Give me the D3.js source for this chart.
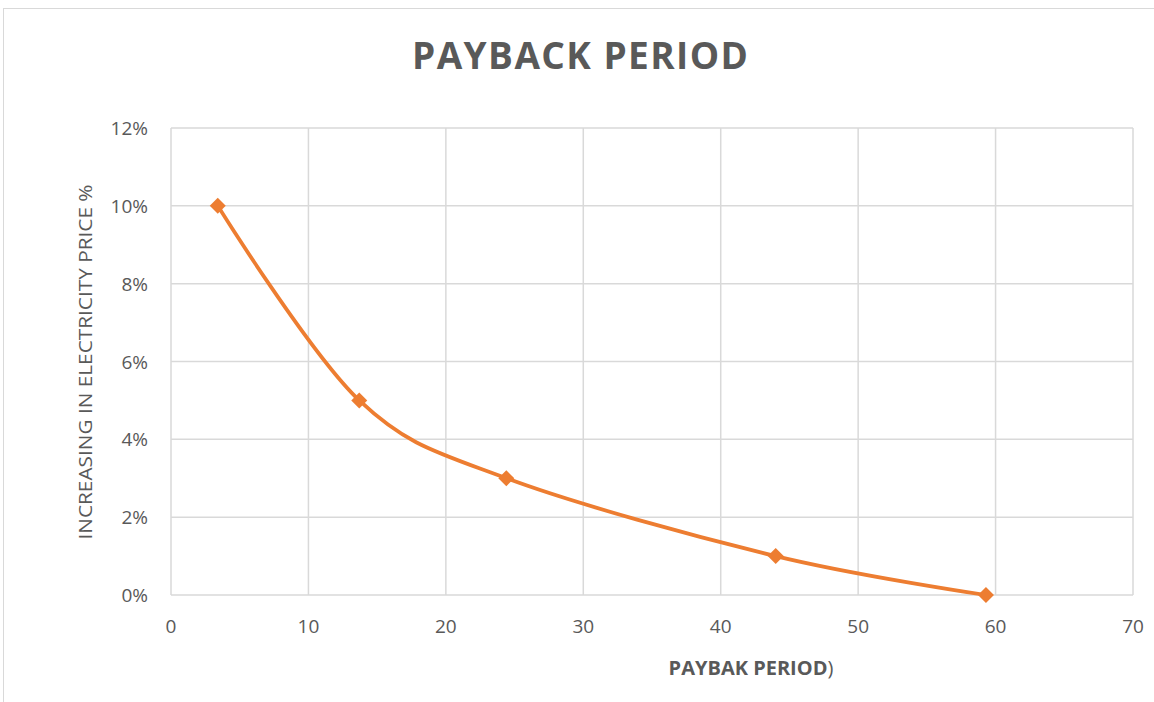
<!DOCTYPE html>
<html><head><meta charset="utf-8">
<script src="https://cdn.jsdelivr.net/npm/d3@7"></script>
<style>body{margin:0;background:#fff}text{font-family:"Open Sans","Liberation Sans",sans-serif}</style>
</head><body><svg id="c" width="1154" height="702"></svg>
<script>
const paybackYears = [3.4, 13.7, 24.4, 44.0, 59.3];
const priceIncrease = [0.10, 0.05, 0.03, 0.01, 0.00];
const xTicks = [0, 10, 20, 30, 40, 50, 60, 70];
const yTicks = [0, 0.02, 0.04, 0.06, 0.08, 0.10, 0.12];
const titleText = "PAYBACK PERIOD";
const xTitle = "PAYBAK PERIOD";
const yTitle = "INCREASING IN ELECTRICITY PRICE %";

const svg = d3.select("#c");
svg.append("rect").attr("x",3.5).attr("y",8.5).attr("width",1160).attr("height",700).attr("fill","#fff").attr("stroke","#d9d9d9");
const L=171, R=1133, T=128, B=595;
const x = d3.scaleLinear().domain([0,70]).range([L,R]);
const y = d3.scaleLinear().domain([0,0.12]).range([B,T]);
const grey="#595959";
svg.append("g").selectAll("line").data(xTicks).join("line")
 .attr("x1",d=>x(d)).attr("x2",d=>x(d)).attr("y1",T).attr("y2",B).attr("stroke","#d9d9d9").attr("stroke-width",1.5);
svg.append("g").selectAll("line").data(yTicks).join("line")
 .attr("x1",L).attr("x2",R).attr("y1",d=>y(d)).attr("y2",d=>y(d)).attr("stroke","#d9d9d9").attr("stroke-width",1.5);
svg.append("g").selectAll("text").data(xTicks).join("text")
 .attr("x",d=>x(d)).attr("y",633).attr("text-anchor","middle").attr("font-size",19).attr("fill",grey).text(d=>d);
const pf = d3.format(".0%");
svg.append("g").selectAll("text").data(yTicks).join("text")
 .attr("x",148).attr("y",d=>y(d)+7).attr("text-anchor","end").attr("font-size",19).attr("fill",grey).text(d=>pf(d));
const pts = paybackYears.map((v,i)=>[x(v),y(priceIncrease[i])]);
svg.append("path").attr("d",d3.line().curve(d3.curveCardinal.tension(0))(pts))
 .attr("fill","none").attr("stroke","#ed7d31").attr("stroke-width",3.75);
svg.append("g").selectAll("path").data(pts).join("path")
 .attr("d",d3.symbol(d3.symbolSquare,128)).attr("transform",d=>`translate(${d[0]},${d[1]}) rotate(45)`).attr("fill","#ed7d31");
svg.append("text").attr("x",580).attr("y",69).attr("text-anchor","middle").attr("font-size",37).attr("font-weight","bold")
 .attr("fill",grey).attr("textLength",336).attr("lengthAdjust","spacing").text(titleText);
const xt = svg.append("text").attr("x",751).attr("y",675).attr("text-anchor","middle").attr("font-size",20).attr("fill",grey);
xt.append("tspan").attr("font-weight","bold").text(xTitle);
xt.append("tspan").text(")");
svg.append("text").attr("transform","translate(92,362) rotate(-90)").attr("text-anchor","middle").attr("font-size",18)
 .attr("fill",grey).attr("textLength",355).attr("lengthAdjust","spacingAndGlyphs").text(yTitle);
</script></body></html>
